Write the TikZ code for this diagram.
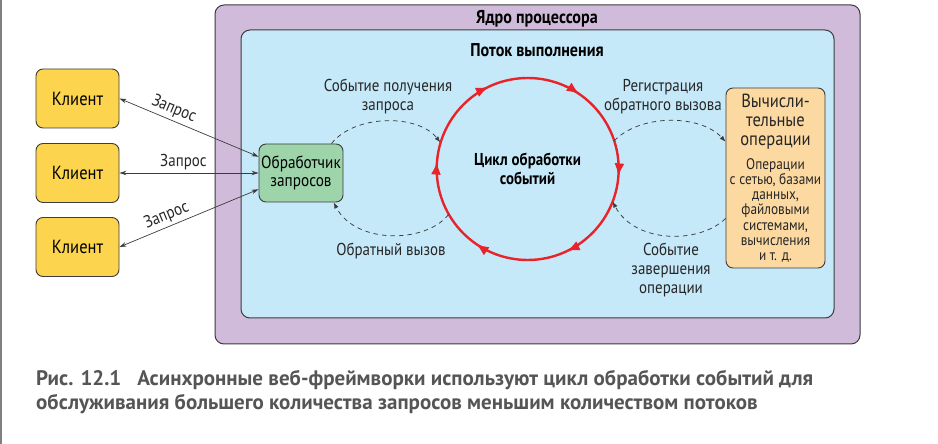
\documentclass[tikz,border=0pt]{standalone}
\usepackage{fontspec}
\setmainfont{PT Sans}[FakeStretch=0.87]
\newfontfamily\capfont{PT Sans}
\usetikzlibrary{arrows.meta,decorations.markings}
\definecolor{purp}{HTML}{D0BCDA}
\definecolor{skyb}{HTML}{C6E9F9}
\definecolor{cliy}{HTML}{FDD44E}
\definecolor{hgreen}{HTML}{9DD4AA}
\definecolor{opor}{HTML}{FDD9A2}
\definecolor{loopred}{HTML}{E8232A}
\definecolor{edge}{HTML}{3C3C3C}
\definecolor{capgray}{HTML}{555555}
\tikzset{
  frame/.style={draw=edge, line width=1pt, rounded corners=9pt, inner sep=0pt},
  box/.style={draw=edge, line width=0.9pt, rounded corners=7pt, align=center, inner sep=0pt},
  lbl/.style={align=center, inner sep=1pt, text=black!85, font=\fontsize{17.2}{19}\selectfont},
  req/.style={draw=edge, line width=0.7pt, {Stealth[length=7pt,width=4.5pt]}-{Stealth[length=7pt,width=4.5pt]}},
  dsh/.style={draw=edge, line width=0.75pt, dash pattern=on 4.5pt off 4pt, -{Latex[length=6pt,width=4.5pt]}},
  ttl/.style={font=\fontsize{18.5}{20}\selectfont\bfseries, inner sep=0pt}
}
\begin{document}
\begin{tikzpicture}[x=1pt,y=1pt, font=\fontsize{17}{19}\selectfont]
\useasboundingbox (0,0) rectangle (938,444);
\fill[gray] (0,0) rectangle (1.5,444);
% frames
\node[frame, fill=purp, minimum width=645pt, minimum height=339pt] (core) at (537.5,269.5) {};
\node[ttl] (coret) at (537,425) {Ядро процессора};
\node[frame, fill=skyb, minimum width=593pt, minimum height=288pt] (thread) at (537.5,270) {};
\node[ttl] (threadt) at (537,394) {Поток выполнения};
% clients
\node[box, fill=cliy, minimum width=83pt, minimum height=59pt, font=\fontsize{19}{20}\selectfont] (c1) at (77.5,345.5) {Клиент};
\node[box, fill=cliy, minimum width=83pt, minimum height=59pt, font=\fontsize{19}{20}\selectfont] (c2) at (77.5,271) {Клиент};
\node[box, fill=cliy, minimum width=83pt, minimum height=59pt, font=\fontsize{19}{20}\selectfont] (c3) at (77.5,197) {Клиент};
% handler
\node[box, fill=hgreen, minimum width=84pt, minimum height=58pt, font=\fontsize{17.5}{18.5}\selectfont] (h) at (301,271) {Обработчик\\запросов};
% operations
\node[box, fill=opor, minimum width=99pt, minimum height=180pt] (ops) at (775.5,266) {};
\node[align=center, inner sep=0pt, text=black!85, font=\fontsize{19}{19}\selectfont, anchor=north] (opst) at (775.5,350) {Вычисли-\\тельные\\операции};
\node[align=center, inner sep=0pt, text=black!85, font=\fontsize{15.3}{15.3}\selectfont, anchor=north] (opsd) at (775.5,286) {Операции\\с сетью, базами\\данных,\\файловыми\\системами,\\вычисления\\и т. д.};
% loop
\node[circle, minimum size=182pt, inner sep=0pt, align=center, font=\fontsize{17.2}{18.5}\selectfont\bfseries] (loop) at (527.5,275) {Цикл обработки\\событий};
\draw[loopred, line width=2.4pt, postaction={decorate},
  decoration={markings, mark=between positions 0.013 and 0.99 step 0.1666667 with {\arrow{Latex[length=13pt,width=10pt]}}}]
  (loop.0) arc[start angle=0, end angle=-360, radius=91pt];
% requests
\draw[req] (c1.east) -- node[pos=0.36, sloped, above=3pt, lbl, inner sep=0pt] {Запрос} (h.159);
\draw[req] (c2.east) -- node[pos=0.46, above=3pt, lbl, inner sep=0pt] {Запрос} (h.west);
\draw[req] (c3.east) -- node[pos=0.37, sloped, above=3pt, lbl, inner sep=0pt] {Запрос} (h.201);
% dashed arcs
\draw[dsh] (h.44) .. controls (355,330) and (418,330) .. (loop.163);
\draw[dsh] (loop.210) .. controls (425,200) and (355,200) .. (h.-42);
\draw[dsh] (loop.18) .. controls (640,330) and (700,330) .. (ops.144);
\draw[dsh] (ops.219) .. controls (700,200) and (635,200) .. (loop.-21);
% labels
\node[lbl] (l1) at (388,347.5) {Событие получения\\запроса};
\node[lbl] (l2) at (391,193) {Обратный вызов};
\node[lbl] (l3) at (663,347.5) {Регистрация\\обратного вызова};
\node[lbl] (l4) at (671,174) {Событие\\завершения\\операции};
% caption
\node[anchor=west, inner sep=0pt, text=capgray, font=\capfont\fontsize{21}{24}\selectfont\bfseries, align=left] (cap) at (36,52)
 {Рис. 12.1\hspace{16pt}Асинхронные веб-фреймворки используют цикл обработки событий для\\обслуживания большего количества запросов меньшим количеством потоков};
\end{tikzpicture}
\end{document}
